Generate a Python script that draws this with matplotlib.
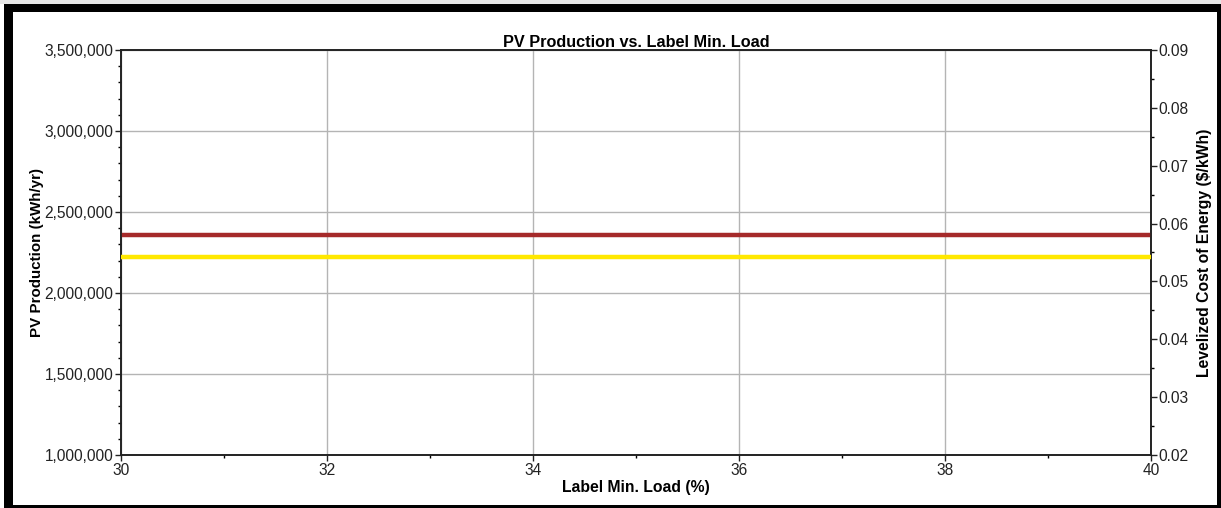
import matplotlib
matplotlib.use("Agg")
import matplotlib.pyplot as plt
from matplotlib.ticker import MultipleLocator, FuncFormatter
from matplotlib.patches import Rectangle

plt.rcParams['font.family'] = ['Liberation Sans', 'DejaVu Sans']

# Data
label_min_load = [30, 32, 34, 36, 38, 40]
pv_production = [2358000, 2358000, 2358000, 2358000, 2358000, 2358000]
lcoe = [0.0542, 0.0542, 0.0542, 0.0542, 0.0542, 0.0542]

W, H = 1221, 508
fig = plt.figure(figsize=(W/100, H/100), dpi=100)
fig.patch.set_facecolor('white')

# outer frame
def px_rect(x0, y0, x1, y1, color):
    fig.patches.append(Rectangle((x0/W, 1 - y1/H), (x1-x0)/W, (y1-y0)/H,
                                 transform=fig.transFigure, facecolor=color,
                                 edgecolor='none', zorder=10))
px_rect(0, 0, W, 4, '#e6e6e6')
px_rect(4, 4, W, 12, 'black')
px_rect(4, 4, 13, H, 'black')
px_rect(1217, 4, W, H, 'black')
px_rect(4, 505, W, H, 'black')

ax = fig.add_axes([121/W, 1 - 455/H, (1151-121)/W, (455-50)/H])
ax2 = ax.twinx()

ax.plot(label_min_load, pv_production, color='#A52A2A', lw=3.2, zorder=3)
ax2.plot(label_min_load, lcoe, color='#FFE800', lw=3.2, zorder=3)

ax.set_xlim(30, 40)
ax.set_ylim(1000000, 3500000)
ax2.set_ylim(0.02, 0.09)

ax.xaxis.set_major_locator(MultipleLocator(2))
ax.xaxis.set_minor_locator(MultipleLocator(1))
ax.yaxis.set_major_locator(MultipleLocator(500000))
ax.yaxis.set_minor_locator(MultipleLocator(100000))
ax.yaxis.set_major_formatter(FuncFormatter(lambda v, p: f"{int(round(v)):,}"))
ax2.yaxis.set_major_locator(MultipleLocator(0.01))
ax2.yaxis.set_minor_locator(MultipleLocator(0.005))
ax2.yaxis.set_major_formatter(FuncFormatter(lambda v, p: f"{v:.2f}"))

ax.grid(True, which='major', color='#b4b4b4', lw=1.0)
ax.set_axisbelow(True)

for a in (ax, ax2):
    a.tick_params(which='major', length=4, width=1, labelsize=11.2, pad=1.5, colors='#222222')
    a.tick_params(which='minor', length=2, width=1)
    for s in a.spines.values():
        s.set_linewidth(1.2)
        s.set_color('#222222')

ax.set_title('PV Production vs. Label Min. Load', fontsize=11.7, fontweight='bold', pad=2)
ax.set_xlabel('Label Min. Load (%)', fontsize=11.3, fontweight='bold', labelpad=2)
ax.set_ylabel('PV Production (kWh/yr)', fontsize=10.9, fontweight='bold', labelpad=0)
ax2.set_ylabel('Levelized Cost of Energy ($/kWh)', fontsize=11.3, fontweight='bold', labelpad=6)

fig.savefig('out.png', dpi=100)
